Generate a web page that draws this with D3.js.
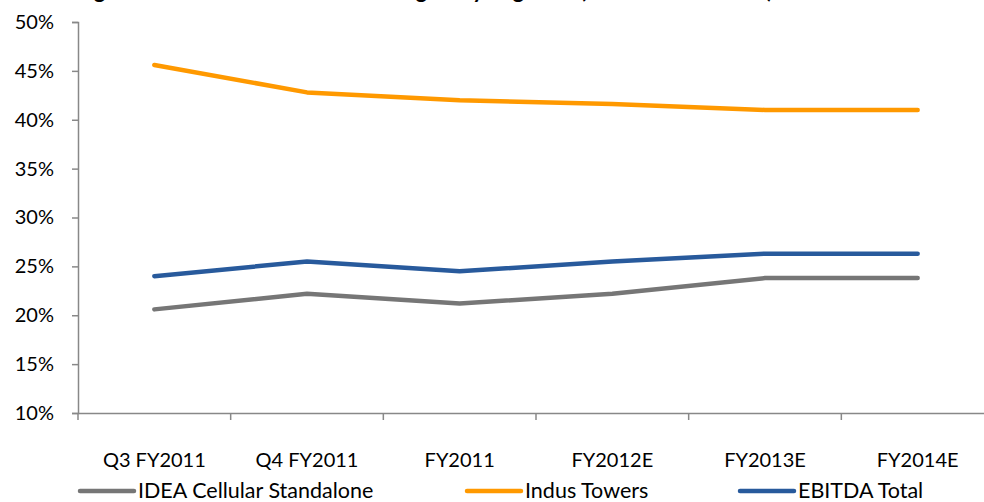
<!DOCTYPE html>
<html><head><meta charset="utf-8">
<script src="https://cdn.jsdelivr.net/npm/d3@7/dist/d3.min.js"></script>
<style>
html,body{margin:0;padding:0;background:#fff;}
svg{display:block;font-family:Lato,"Open Sans",sans-serif;}
</style></head>
<body>
<svg id="c" width="984" height="502"></svg>
<script>
const title = "Figure 5: Idea Cellular EBITDA Margins by Segment (FY2011–FY2014E)";
const categories = ["Q3 FY2011","Q4 FY2011","FY2011","FY2012E","FY2013E","FY2014E"];
const ideaStandalone = [20.6, 22.2, 21.2, 22.2, 23.8, 23.8];
const indusTowers    = [45.6, 42.8, 42.0, 41.6, 41.0, 41.0];
const ebitdaTotal    = [24.0, 25.5, 24.5, 25.5, 26.3, 26.3];
const yTicks = [10,15,20,25,30,35,40,45,50];
const seriesNames = ["IDEA Cellular Standalone","Indus Towers","EBITDA Total"];
const seriesColors = ["#767676","#FF9900","#285A9C"];

(function(){
const svg = d3.select("#c");
const mLeft = 78, mRight = 994, mTop = 22, mBottom = 413;

const x = d3.scaleBand().domain(categories).range([mLeft, mRight]);
const y = d3.scaleLinear().domain([10,50]).range([mBottom, mTop]);

// title (clipped at top, as in the source image)
svg.append("text").attr("x", 773).attr("y", -2).attr("text-anchor","end")
  .attr("font-weight","bold").attr("font-size",22).attr("fill","#000").text(title);

// y axis
const yAxis = svg.append("g").attr("transform",`translate(${mLeft},0)`)
  .call(d3.axisLeft(y).tickValues(yTicks).tickSize(6).tickPadding(18).tickFormat(d=>d+"%"));
yAxis.select(".domain").attr("stroke","#888").attr("stroke-width",1.5);
yAxis.selectAll(".tick line").attr("stroke","#888").attr("stroke-width",1.5);
yAxis.selectAll(".tick text").attr("font-size",20).attr("font-family","Lato").attr("fill","#000");

// x axis
const xAxis = svg.append("g").attr("transform",`translate(0,${mBottom})`)
  .call(d3.axisBottom(x).tickSize(0).tickPadding(40));
xAxis.select(".domain").attr("stroke","#888").attr("stroke-width",1.5);
xAxis.selectAll(".tick text").attr("font-size",20).attr("font-family","Lato").attr("fill","#000");
const bounds = categories.map(c => x(c));
xAxis.selectAll("line.bt").data(bounds).enter().append("line").attr("class","bt")
  .attr("x1",d=>d).attr("x2",d=>d).attr("y1",0).attr("y2",7)
  .attr("stroke","#888").attr("stroke-width",1.5);

// lines
const series = [ideaStandalone, indusTowers, ebitdaTotal];
const line = d3.line().x((d,i)=>x(categories[i]) + x.bandwidth()/2).y(d=>y(d));
series.forEach((s,k)=>{
  svg.append("path").datum(s).attr("d",line).attr("fill","none")
    .attr("stroke",seriesColors[k]).attr("stroke-width",4.5)
    .attr("stroke-linejoin","round").attr("stroke-linecap","round");
});

// legend
const legendX = [80, 467, 740];
seriesNames.forEach((n,k)=>{
  const g = svg.append("g").attr("transform",`translate(${legendX[k]},491)`);
  g.append("line").attr("x1",0).attr("x2",54).attr("y1",0).attr("y2",0)
    .attr("stroke",seriesColors[k]).attr("stroke-width",4.5).attr("stroke-linecap","round");
  g.append("text").attr("x",58).attr("y",6.5).attr("font-size",21.5).attr("fill","#000").text(n);
});
})();
</script>
</body></html>
